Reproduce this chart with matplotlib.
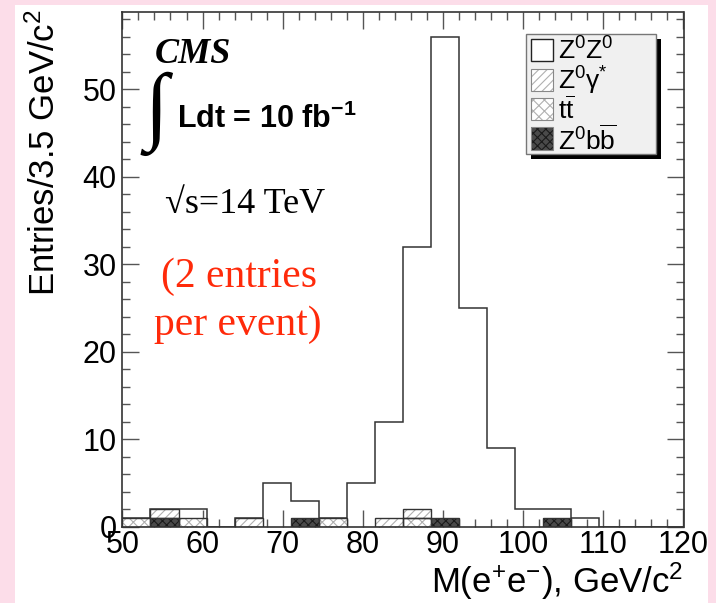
import numpy as np
import matplotlib
matplotlib.use("Agg")
import matplotlib.pyplot as plt
from matplotlib.patches import Rectangle
from matplotlib.ticker import MultipleLocator

# ---------------- data ----------------
bin_edges = [50.0, 53.5, 57.0, 60.5, 64.0, 67.5, 71.0, 74.5, 78.0, 81.5, 85.0,
             88.5, 92.0, 95.5, 99.0, 102.5, 106.0, 109.5, 113.0, 116.5, 120.0]
zbb    = [0, 1, 0, 0, 0, 0, 1, 0, 0, 0, 0, 1, 0, 0, 0, 1, 0, 0, 0, 0]
ttbar  = [1, 0, 1, 0, 0, 0, 0, 1, 0, 0, 1, 0, 0, 0, 0, 0, 0, 0, 0, 0]
zgamma = [0, 1, 0, 0, 1, 0, 0, 0, 0, 1, 1, 0, 0, 0, 0, 0, 0, 0, 0, 0]
zz     = [0, 0, 1, 0, 0, 5, 2, 0, 5, 11, 30, 55, 25, 9, 2, 1, 1, 0, 0, 0]
x_ticks = [50, 60, 70, 80, 90, 100, 110, 120]
y_ticks = [0, 10, 20, 30, 40, 50]
legend_labels = [r'Z$^{\mathregular{0}}$Z$^{\mathregular{0}}$',
                 r'Z$^{\mathregular{0}}\mathregular{\gamma}^{*}$',
                 r't$\overline{\mathregular{t}}$',
                 r'Z$^{\mathregular{0}}$b$\overline{\mathregular{b}}$']

# ---------------- style ----------------
plt.rcParams['font.family'] = ['Liberation Sans', 'DejaVu Sans']
plt.rcParams['mathtext.fontset'] = 'custom'
plt.rcParams['mathtext.rm'] = 'Liberation Sans'
plt.rcParams['mathtext.it'] = 'Liberation Sans'
plt.rcParams['mathtext.bf'] = 'Liberation Sans:bold'
plt.rcParams['hatch.linewidth'] = 0.8

W, H = 716, 603
fig = plt.figure(figsize=(W / 100, H / 100), dpi=100)
fig.patch.set_facecolor('#fcdde9')
fig.add_artist(Rectangle((15 / W, 0), (708 - 15) / W, 1 - 5 / H,
                         transform=fig.transFigure, facecolor='white',
                         edgecolor='none', zorder=0))

L, R, T, B = 122.4, 683.5, 12, 527
ax = fig.add_axes([L / W, 1 - B / H, (R - L) / W, (B - T) / H])
ax.set_facecolor('white')

edges = np.array(bin_edges)
lefts = edges[:-1]
widths = np.diff(edges)
line_col = '#333333'

styles = [
    (zbb,    dict(facecolor='#4a4a4a', hatch='xxxx', edgecolor='#1a1a1a')),
    (ttbar,  dict(facecolor='white', hatch='xxx', edgecolor='#b0b0b0')),
    (zgamma, dict(facecolor='white', hatch='////', edgecolor='#b0b0b0')),
]
bottom = np.zeros(len(zz))
for vals, st in styles:
    v = np.array(vals, dtype=float)
    m = v > 0
    ax.bar(lefts[m], v[m], width=widths[m], bottom=bottom[m], align='edge',
           linewidth=0, zorder=2, **st)
    ax.bar(lefts[m], v[m], width=widths[m], bottom=bottom[m], align='edge',
           fill=False, edgecolor=line_col, linewidth=1.0, zorder=3)
    bottom = bottom + v

total = bottom + np.array(zz, dtype=float)
ax.stairs(total, edges, baseline=0, color=line_col, linewidth=1.1, zorder=4)

ax.set_xlim(50, 120)
ax.set_ylim(0, 58.8)
ax.set_xticks(x_ticks)
ax.set_yticks(y_ticks)
ax.xaxis.set_minor_locator(MultipleLocator(2))
ax.yaxis.set_minor_locator(MultipleLocator(2))
ax.tick_params(which='both', direction='in', top=True, right=True,
               color='#555555', width=1.0)
ax.tick_params(which='major', length=12, labelsize=22)
ax.tick_params(which='minor', length=6)
ax.tick_params(axis='x', which='major', pad=2)
ax.tick_params(axis='y', which='major', pad=4)
for sp in ax.spines.values():
    sp.set_color('#333333')
    sp.set_linewidth(1.2)

ax.set_ylabel(r'Entries/3.5 GeV/c$^{2}$', fontsize=25, loc='top')
ax.yaxis.set_label_coords(-0.108, 1.006)
ax.set_xlabel(r'M(e$^{+}$e$^{-}$), GeV/c$^{2}$', fontsize=25, loc='right')
ax.xaxis.set_label_coords(1.0, -0.066)


def fx(px):
    return px / W


def fy(py):
    return 1 - py / H


fig.text(fx(155), fy(63), 'CMS', fontsize=26, fontweight='bold', fontstyle='italic',
         family=['Liberation Serif', 'DejaVu Serif'], va='baseline', ha='left')
fig.text(fx(145), fy(114), '\u222b', fontsize=62,
         family=['Liberation Serif', 'DejaVu Serif'], va='center', ha='left')
fig.text(fx(177), fy(128), r'Ldt = 10 fb$^{\mathbf{-1}}$', fontsize=22,
         fontweight='bold', va='baseline', ha='left')
fig.text(fx(165), fy(213), '\u221as=14 TeV', fontsize=26,
         family=['Liberation Serif', 'DejaVu Serif'], va='baseline', ha='left')
red = '#ff2a0a'
fig.text(fx(161), fy(287), '(2 entries', fontsize=30, color=red,
         family=['Liberation Serif', 'DejaVu Serif'], va='baseline', ha='left')
fig.text(fx(154), fy(335), 'per event)', fontsize=30, color=red,
         family=['Liberation Serif', 'DejaVu Serif'], va='baseline', ha='left')

# ---------------- legend (drawn manually, ROOT style) ----------------
lx0, ly0, lx1, ly1 = 526, 34, 656, 154
sh = 5
fig.add_artist(Rectangle((fx(lx0 + sh), fy(ly1 + sh)), (lx1 - lx0) / W, (ly1 - ly0) / H,
                         transform=fig.transFigure, facecolor='black',
                         edgecolor='none', zorder=5))
fig.add_artist(Rectangle((fx(lx0), fy(ly1)), (lx1 - lx0) / W, (ly1 - ly0) / H,
                         transform=fig.transFigure, facecolor='#f0f0f0',
                         edgecolor='#777777', linewidth=1.0, zorder=6))
leg_styles = [
    dict(facecolor='white', edgecolor='#222222', linewidth=1.0),
    dict(facecolor='white', hatch='////', edgecolor='#b0b0b0', linewidth=0),
    dict(facecolor='white', hatch='xxx', edgecolor='#b0b0b0', linewidth=0),
    dict(facecolor='#4a4a4a', hatch='xxxx', edgecolor='#1a1a1a', linewidth=0),
]
row_c = [50, 79.5, 109, 138.5]
for yc, st, lab in zip(row_c, leg_styles, legend_labels):
    fig.add_artist(Rectangle((fx(531), fy(yc + 11)), 22 / W, 22 / H,
                             transform=fig.transFigure, zorder=7, **st))
    if st.get('linewidth', 1) == 0:
        fig.add_artist(Rectangle((fx(531), fy(yc + 11)), 22 / W, 22 / H,
                                 transform=fig.transFigure, zorder=7, fill=False,
                                 edgecolor='#888888', linewidth=0.8))
    fig.text(fx(558), fy(yc + 1), lab, fontsize=19, va='center', ha='left', zorder=8)

fig.savefig('out.png', dpi=100, facecolor=fig.get_facecolor())
